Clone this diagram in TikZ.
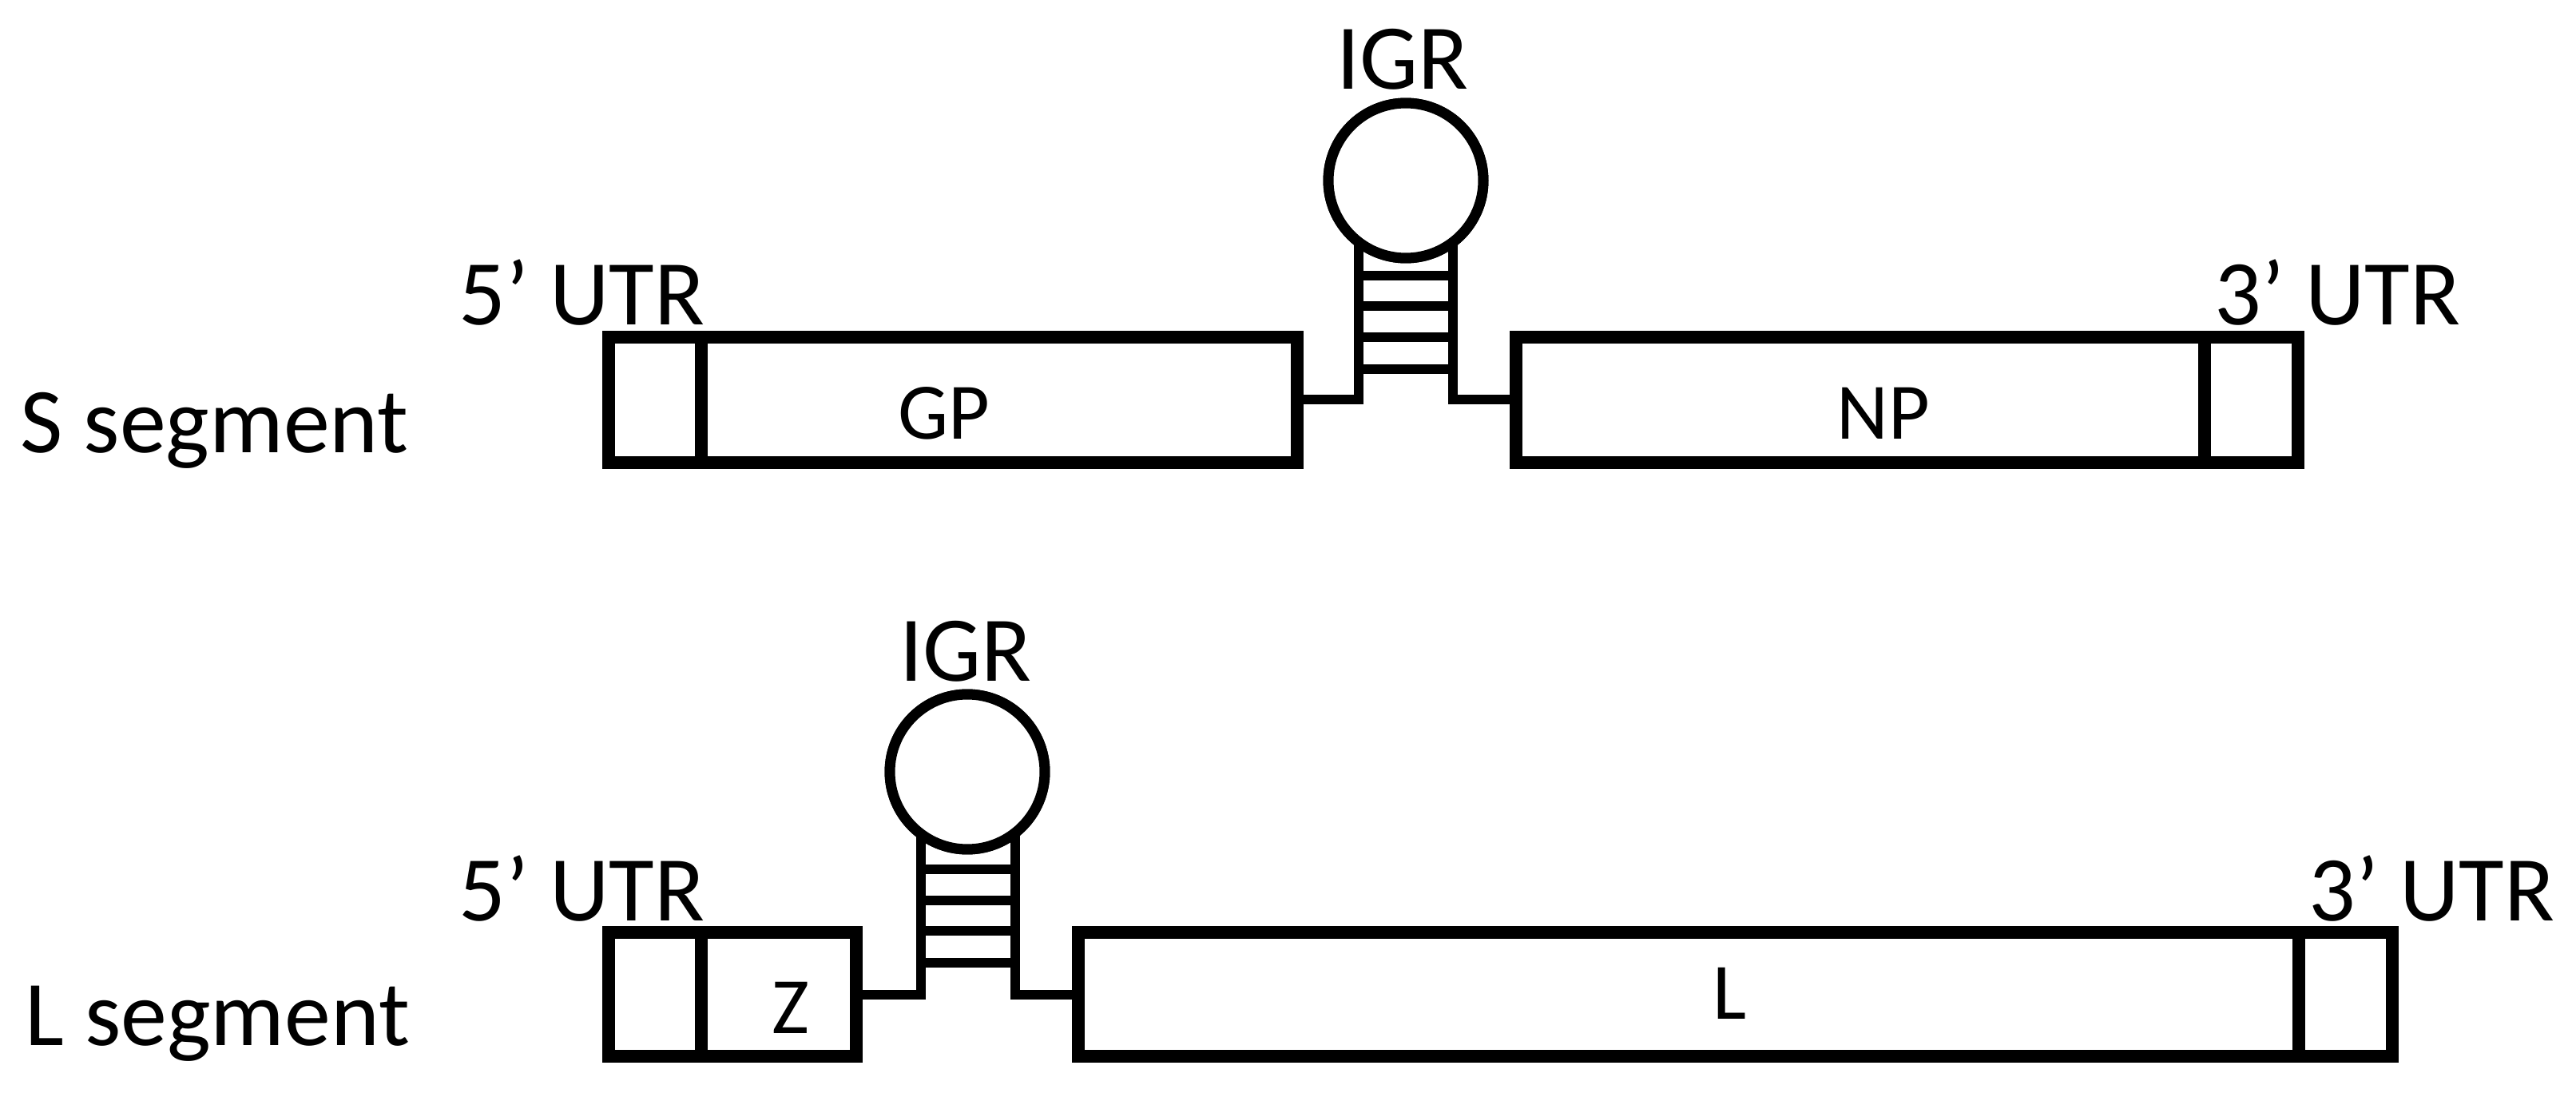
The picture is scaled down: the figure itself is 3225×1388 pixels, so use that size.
\documentclass[tikz,border=0pt]{standalone}
\usepackage{fontspec}
\setmainfont{Carlito}
\begin{document}
\begin{tikzpicture}[x=0.02cm,y=-0.02cm,
  segbox/.style={draw=black, line width=0.32cm, inner sep=0pt, outer sep=0pt, fill=white},
  hp/.style={draw=black, line width=0.24cm},
  loopc/.style={circle, draw=black, line width=0.26cm, fill=white, inner sep=0pt, minimum size=3.88cm},
  big/.style={inner sep=0pt, font=\fontsize{66}{70}\selectfont},
  small/.style={inner sep=0pt, font=\fontsize{57}{60}\selectfont}]
\useasboundingbox (0,0) rectangle (3225,1388);
\newcommand{\segbox}[5]{\node[segbox, minimum width={(#3-#2)*0.02cm}, minimum height={(#5-#4)*0.02cm}] (#1) at ({(#2+#3)/2},{(#4+#5)/2}) {};}

% ---------- S segment ----------
\coordinate (sSL) at (1701,500);
\coordinate (sSR) at (1819,500);
\node[loopc] (loopS) at (1760,226) {};
\draw[hp] (1624,500) -- (sSL) -- (sSL |- loopS.center);
\draw[hp] (1898,500) -- (sSR) -- (sSR |- loopS.center);
\foreach \yy in {345,383,422,462} \draw[hp] (sSL |- 0,\yy) -- (sSR |- 0,\yy);
\node[loopc] (loopS) at (1760,226) {};

\segbox{utr5S}{762}{878}{422}{579}
\segbox{gpS}{878}{1624}{422}{579}
\segbox{npS}{1898}{2760}{422}{579}
\segbox{utr3S}{2760}{2877}{422}{579}

\node[big, anchor=base west] (lblS) at (25,566) {S segment};
\node[big, anchor=base west] (t5S) at (574,407) {5’ UTR};
\node[big, anchor=base west] (t3S) at (2772,407) {3’ UTR};
\node[big, anchor=base] (igrS) at (1756,112) {IGR};
\node[small, anchor=base] (tGP) at (1182,550) {GP};
\node[small, anchor=base] (tNP) at (2358,550) {NP};

% ---------- L segment ----------
\coordinate (sLL) at (1153,1245);
\coordinate (sLR) at (1271,1245);
\node[loopc] (loopL) at (1211,966) {};
\draw[hp] (1072,1245) -- (sLL) -- (sLL |- loopL.center);
\draw[hp] (1350,1245) -- (sLR) -- (sLR |- loopL.center);
\foreach \yy in {1088,1127,1165,1205} \draw[hp] (sLL |- 0,\yy) -- (sLR |- 0,\yy);
\node[loopc] (loopL) at (1211,966) {};

\segbox{utr5L}{762}{878}{1167}{1322}
\segbox{zL}{878}{1072}{1167}{1322}
\segbox{lL}{1350}{2878}{1167}{1322}
\segbox{utr3L}{2878}{2995}{1167}{1322}

\node[big, anchor=base west] (lblL) at (31,1308) {L segment};
\node[big, anchor=base west] (t5L) at (574,1152) {5’ UTR};
\node[big, anchor=base west] (t3L) at (2890,1152) {3’ UTR};
\node[big, anchor=base] (igrL) at (1209,852) {IGR};
\node[small, anchor=base] (tZ) at (990,1293) {Z};
\node[small, anchor=base] (tL) at (2166,1275) {L};
\end{tikzpicture}
\end{document}
